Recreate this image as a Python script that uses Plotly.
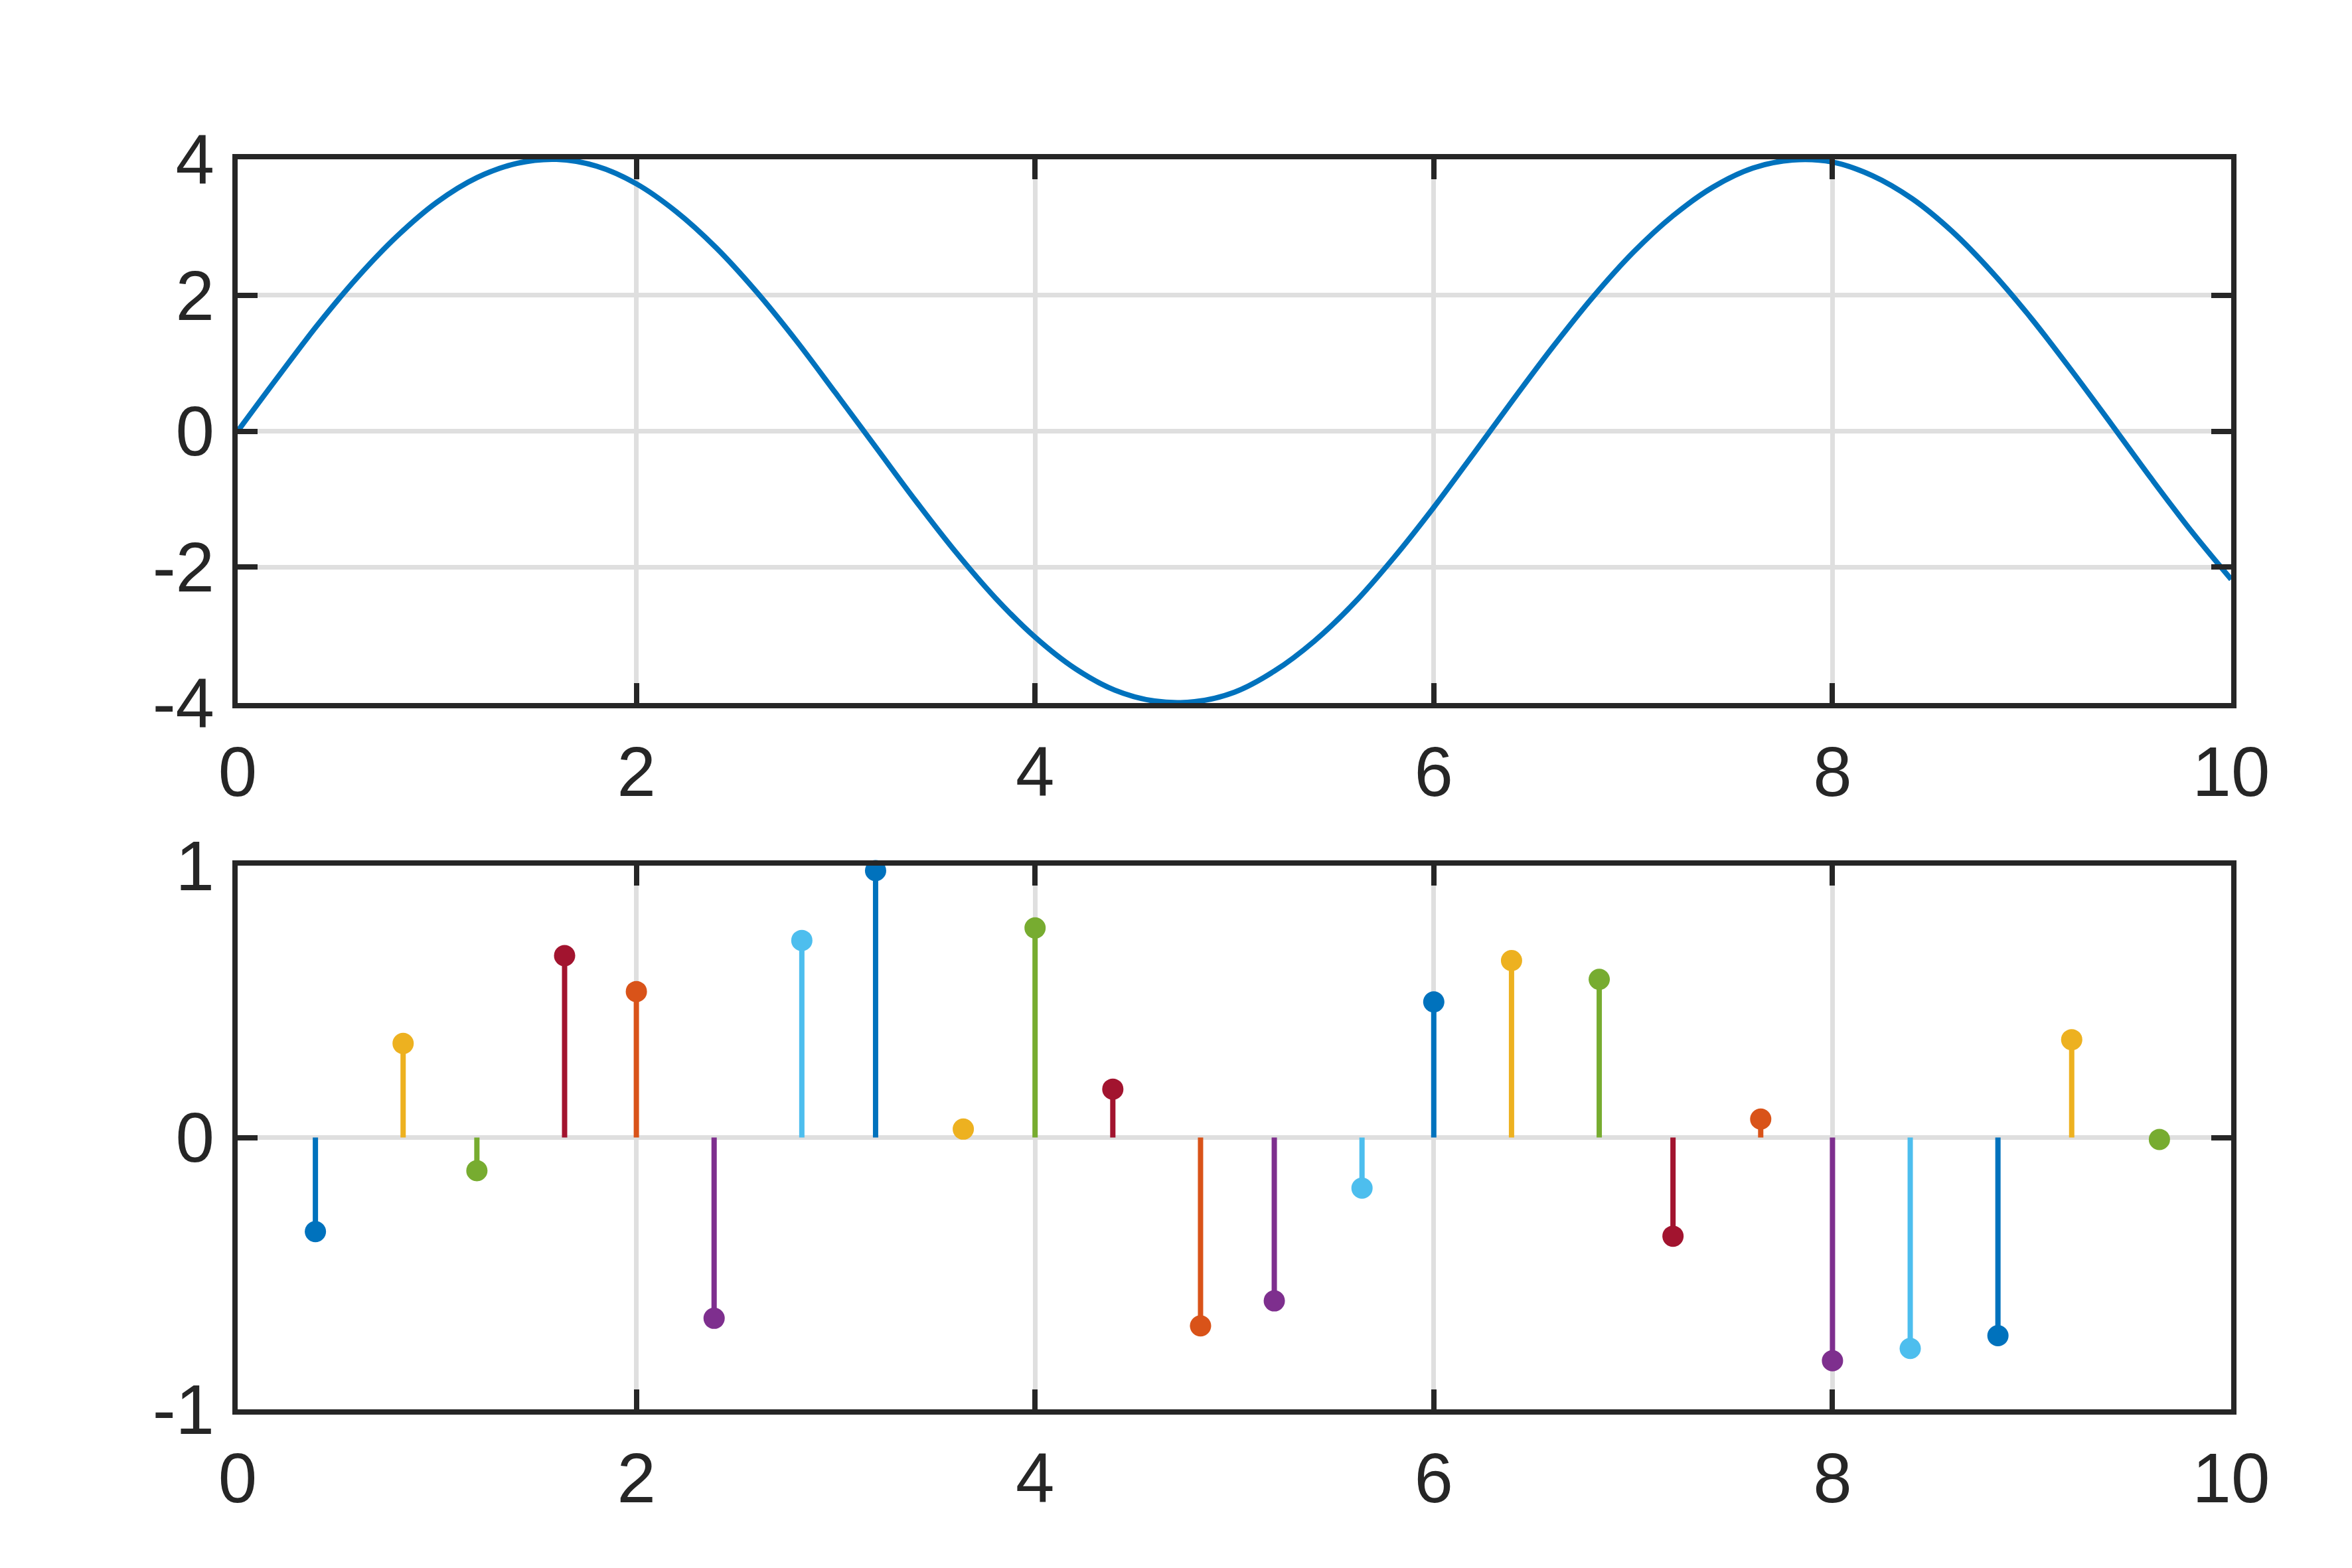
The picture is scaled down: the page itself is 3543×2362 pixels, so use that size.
import plotly.graph_objects as go

wave_x = [0.0, 0.2, 0.4, 0.6, 0.8, 1.0, 1.2, 1.4, 1.6, 1.8,
          2.0, 2.2, 2.4, 2.6, 2.8, 3.0, 3.2, 3.4, 3.6, 3.8,
          4.0, 4.2, 4.4, 4.6, 4.8, 5.0, 5.2, 5.4, 5.6, 5.8,
          6.0, 6.2, 6.4, 6.6, 6.8, 7.0, 7.2, 7.4, 7.6, 7.8,
          8.0, 8.2, 8.4, 8.6, 8.8, 9.0, 9.2, 9.4, 9.6, 9.8, 10.0]
wave_y = [0.00, 0.79, 1.56, 2.26, 2.87, 3.37, 3.73, 3.94, 4.00, 3.90,
          3.64, 3.23, 2.70, 2.06, 1.34, 0.56, -0.23, -1.02, -1.77, -2.45,
          -3.03, -3.49, -3.81, -3.97, -3.98, -3.84, -3.53, -3.09, -2.53, -1.86,
          -1.12, -0.33, 0.47, 1.25, 1.98, 2.63, 3.17, 3.59, 3.87, 3.99,
          3.96, 3.76, 3.42, 2.94, 2.34, 1.65, 0.89, 0.10, -0.70, -1.47, -2.18]

# bottom panel: stem positions and heights
stem_x = [0.39, 0.83, 1.20, 1.64, 2.00, 2.39, 2.83, 3.20, 3.64, 4.00,
          4.39, 4.83, 5.20, 5.64, 6.00, 6.39, 6.83, 7.20, 7.64, 8.00,
          8.39, 8.83, 9.20, 9.64]
stem_y = [-0.346, 0.346, -0.122, 0.669, 0.537, -0.665, 0.725, 0.982, 0.031, 0.771,
          0.178, -0.693, -0.601, -0.186, 0.499, 0.651, 0.582, -0.363, 0.068, -0.821,
          -0.776, -0.729, 0.360, -0.007]

x_ticks = [0, 2, 4, 6, 8, 10]
x_labels = ['0', '2', '4', '6', '8', '10']
top_yticks = [-4, -2, 0, 2, 4]
top_ylabels = ['-4', '-2', '0', '2', '4']
bot_yticks = [-1, 0, 1]
bot_ylabels = ['-1', '0', '1']

# colour order of the stems
palette = ['#0072BD', '#EDB120', '#77AC30', '#A2142F', '#D95319', '#7E2F8E', '#4DBEEE']

ink = '#262626'
grid = '#dfdfdf'
font = dict(family='Liberation Sans, Arial, sans-serif', size=105, color=ink)

fig = go.Figure()

fig.add_trace(go.Scatter(
    x=wave_x, y=wave_y, mode='lines', line=dict(color='#0072BD', width=8, shape='spline'),
    xaxis='x', yaxis='y', showlegend=False))

for i, (sx, sy) in enumerate(zip(stem_x, stem_y)):
    col = palette[i % len(palette)]
    fig.add_trace(go.Scatter(
        x=[sx, sx], y=[0, sy], mode='lines', line=dict(color=col, width=8),
        xaxis='x2', yaxis='y2', showlegend=False))
    fig.add_trace(go.Scatter(
        x=[sx], y=[sy], mode='markers', marker=dict(color=col, size=32, line=dict(width=0)),
        xaxis='x2', yaxis='y2', showlegend=False, cliponaxis=False))

axis_common = dict(
    showline=True, linecolor=ink, linewidth=8, mirror='ticks',
    ticks='inside', ticklen=30, tickwidth=8, tickcolor=ink,
    showgrid=True, gridcolor=grid, gridwidth=7, zeroline=False,
    tickfont=font,
)

fig.update_layout(
    width=3543, height=2362,
    paper_bgcolor='white', plot_bgcolor='white',
    margin=dict(l=350, r=190, t=232, b=247),
    font=font,
    xaxis=dict(domain=[0, 1], range=[0, 10], tickvals=x_ticks, ticktext=x_labels,
               anchor='y', ticklabelstandoff=6, **axis_common),
    yaxis=dict(domain=[0.565, 1], range=[-4, 4], tickvals=top_yticks, ticktext=top_ylabels,
               anchor='x', ticklabelstandoff=6, **axis_common),
    xaxis2=dict(domain=[0, 1], range=[0, 10], tickvals=x_ticks, ticktext=x_labels,
                anchor='y2', ticklabelstandoff=6, **axis_common),
    yaxis2=dict(domain=[0, 0.4349], range=[-1, 1], tickvals=bot_yticks, ticktext=bot_ylabels,
                anchor='x2', ticklabelstandoff=6, **axis_common),
)

fig.write_html("out.html")
